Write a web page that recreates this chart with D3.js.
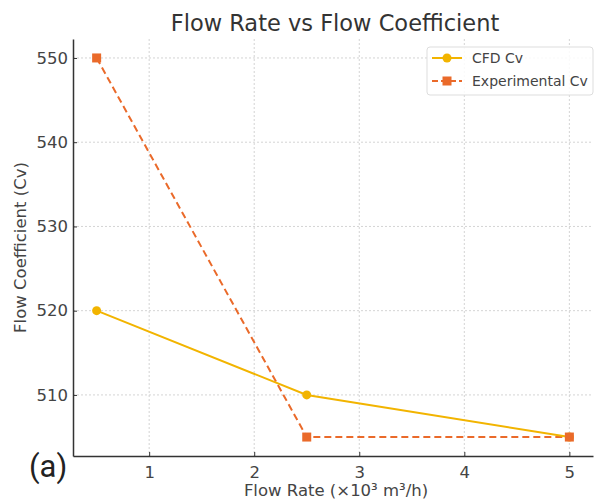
<!DOCTYPE html>
<html>
<head>
<meta charset="utf-8">
<script src="https://cdn.jsdelivr.net/npm/d3@7.9.0/dist/d3.min.js"></script>
<style>
  body { margin: 0; background: #fff; }
  svg { font-family: "DejaVu Sans", sans-serif; }
</style>
</head>
<body>
<div id="chart"></div>
<script>
const flowRates = [0.5, 2.5, 5];
const cfdCv = [520, 510, 505];
const expCv = [550, 505, 505];
const xTicks = [1, 2, 3, 4, 5];
const yTicks = [510, 520, 530, 540, 550];
const seriesNames = ['CFD Cv', 'Experimental Cv'];

const width = 597, height = 501;
const margin = { top: 39, right: 4, bottom: 45, left: 73 };

const svg = d3.select('#chart').append('svg')
  .attr('width', width)
  .attr('height', height);

const xScale = d3.scaleLinear()
  .domain([0.275, 5.225])
  .range([margin.left, width - margin.right]);
const yScale = d3.scaleLinear()
  .domain([502.75, 552.25])
  .range([height - margin.bottom, margin.top]);

// gridlines
const grid = svg.append('g').attr('class', 'grid');
grid.selectAll('line.gx').data(xTicks).join('line')
  .attr('x1', d => xScale(d)).attr('x2', d => xScale(d))
  .attr('y1', margin.top).attr('y2', height - margin.bottom)
  .attr('stroke', '#d4d4d4').attr('stroke-dasharray', '2,2');
grid.selectAll('line.gy').data(yTicks).join('line')
  .attr('x1', margin.left).attr('x2', width - margin.right)
  .attr('y1', d => yScale(d)).attr('y2', d => yScale(d))
  .attr('stroke', '#d4d4d4').attr('stroke-dasharray', '2,2');

// axes
const xAxis = svg.append('g')
  .attr('transform', `translate(0, ${height - margin.bottom})`)
  .call(d3.axisBottom(xScale).tickValues(xTicks).tickFormat(d3.format('d'))
    .tickSize(-4).tickPadding(10).tickSizeOuter(0));
const yAxis = svg.append('g')
  .attr('transform', `translate(${margin.left}, 0)`)
  .call(d3.axisLeft(yScale).tickValues(yTicks).tickFormat(d3.format('d'))
    .tickSize(-4).tickPadding(5).tickSizeOuter(0));
[xAxis, yAxis].forEach(ax => {
  ax.select('.domain').attr('stroke', '#333').attr('stroke-width', 1.5);
  ax.selectAll('.tick line').attr('stroke', '#333');
  ax.selectAll('.tick text').attr('fill', '#444').style('font-size', '16.5px')
    .style('font-family', '"DejaVu Sans", sans-serif');
});

const colors = ['#f2b400', '#ea6a2a'];
const line = d3.line().x(d => xScale(d[0])).y(d => yScale(d[1]));

const cfdPts = flowRates.map((x, i) => [x, cfdCv[i]]);
const expPts = flowRates.map((x, i) => [x, expCv[i]]);

svg.append('path').datum(expPts)
  .attr('d', line).attr('fill', 'none')
  .attr('stroke', colors[1]).attr('stroke-width', 2)
  .attr('stroke-dasharray', '7,4');
svg.append('path').datum(cfdPts)
  .attr('d', line).attr('fill', 'none')
  .attr('stroke', colors[0]).attr('stroke-width', 2);

svg.append('g').selectAll('circle').data(cfdPts).join('circle')
  .attr('cx', d => xScale(d[0])).attr('cy', d => yScale(d[1]))
  .attr('r', 4.5).attr('fill', colors[0]);
svg.append('g').selectAll('rect').data(expPts).join('rect')
  .attr('x', d => xScale(d[0]) - 4.5).attr('y', d => yScale(d[1]) - 4.5)
  .attr('width', 9).attr('height', 9).attr('fill', colors[1]);

// title and labels
svg.append('text')
  .attr('x', 335).attr('y', 31)
  .attr('text-anchor', 'middle')
  .attr('fill', '#333')
  .style('font-size', '22.5px')
  .text('Flow Rate vs Flow Coefficient');
svg.append('text')
  .attr('x', 336).attr('y', 496)
  .attr('text-anchor', 'middle')
  .attr('fill', '#444')
  .style('font-size', '16.5px')
  .text('Flow Rate (×10³ m³/h)');
svg.append('text')
  .attr('transform', `translate(26, ${yScale(527.5)}) rotate(-90)`)
  .attr('text-anchor', 'middle')
  .attr('fill', '#444')
  .style('font-size', '16.5px')
  .text('Flow Coefficient (Cv)');
svg.append('text')
  .attr('x', 29).attr('y', 477)
  .attr('fill', '#222')
  .style('font-family', 'Roboto, "Noto Sans", sans-serif')
  .style('font-size', '31px')
  .text('(a)');

// legend
const legend = svg.append('g').attr('transform', 'translate(427, 47)');
legend.append('rect')
  .attr('width', 166).attr('height', 48).attr('rx', 3)
  .attr('fill', '#fff').attr('fill-opacity', 0.85)
  .attr('stroke', '#ddd');
seriesNames.forEach((name, i) => {
  const y = 11 + i * 23;
  const g = legend.append('g').attr('transform', `translate(0, ${y})`);
  g.append('line').attr('x1', 5).attr('x2', 35).attr('y1', 0).attr('y2', 0)
    .attr('stroke', colors[i]).attr('stroke-width', 2)
    .attr('stroke-dasharray', i === 1 ? '6,3' : null);
  if (i === 0) {
    g.append('circle').attr('cx', 20).attr('cy', 0).attr('r', 4.5).attr('fill', colors[i]);
  } else {
    g.append('rect').attr('x', 15.5).attr('y', -4.5).attr('width', 9).attr('height', 9).attr('fill', colors[i]);
  }
  g.append('text').attr('x', 45).attr('y', 5)
    .attr('fill', '#444').style('font-size', '14px')
    .text(name);
});
</script>
</body>
</html>
